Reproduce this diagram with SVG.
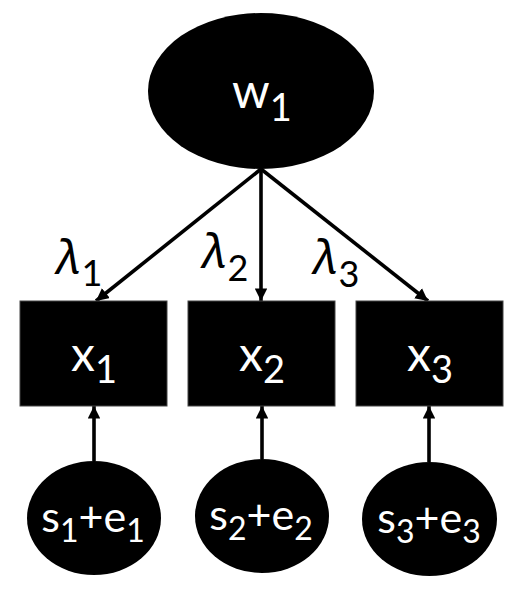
<svg xmlns="http://www.w3.org/2000/svg" width="530" height="599" viewBox="0 0 530 599">
<style>
.node{fill:#000}
.box{fill:#000;stroke:#444;stroke-width:1}
.lbl{fill:#fff;font-family:Lato,"Open Sans",sans-serif;text-anchor:middle}
.big{font-size:48px}
.sm{font-size:43px}
.lam{fill:#000;font-family:"Noto Sans","DejaVu Sans",sans-serif;font-style:italic;font-size:48px}
.sub{font-family:Lato,"Open Sans",sans-serif;font-style:normal}
.edge{stroke:#000;stroke-width:3.6;fill:none;marker-end:url(#ah)}
</style>
<defs>
<marker id="ah" viewBox="0 0 10 10" refX="10" refY="5" markerWidth="3.5" markerHeight="3.6" orient="auto" markerUnits="strokeWidth">
<path d="M0,0 L10,5 L0,10 z" fill="#000"/>
</marker>
</defs>
<rect width="530" height="599" fill="#fff"/>
<g id="connectors">
<line class="edge" x1="261" y1="169" x2="96" y2="301"/>
<line class="edge" x1="261" y1="169" x2="261" y2="301"/>
<line class="edge" x1="261" y1="169" x2="428" y2="301"/>
<line class="edge" x1="94" y1="461" x2="94" y2="406"/>
<line class="edge" x1="262" y1="459" x2="262" y2="406"/>
<line class="edge" x1="429" y1="462" x2="429" y2="406"/>
</g>
<g id="labels">
<text class="lam" x="56" y="274">λ<tspan class="sub" font-size="36" dy="12">1</tspan></text>
<text class="lam" x="202" y="268">λ<tspan class="sub" font-size="36" dy="13">2</tspan></text>
<text class="lam" x="313" y="274">λ<tspan class="sub" font-size="36" dy="13">3</tspan></text>
</g>
<g id="w1">
<ellipse class="node" cx="261" cy="91" rx="113" ry="78"/>
<text class="lbl big" x="262" y="108">w<tspan font-size="38" dy="13">1</tspan></text>
</g>
<g id="x1">
<rect class="box" x="20" y="301" width="147" height="105"/>
<text class="lbl big" x="94" y="371">x<tspan font-size="38" dy="12">1</tspan></text>
</g>
<g id="x2">
<rect class="box" x="188" y="301" width="147" height="105"/>
<text class="lbl big" x="262" y="371">x<tspan font-size="38" dy="12">2</tspan></text>
</g>
<g id="x3">
<rect class="box" x="356" y="301" width="147" height="105"/>
<text class="lbl big" x="430" y="371">x<tspan font-size="38" dy="12">3</tspan></text>
</g>
<g id="e1">
<ellipse class="node" cx="94" cy="518" rx="67" ry="57"/>
<text class="lbl sm" x="93" y="532">s<tspan font-size="32" dy="10">1</tspan><tspan dy="-10">+e</tspan><tspan font-size="32" dy="10">1</tspan></text>
</g>
<g id="e2">
<ellipse class="node" cx="262" cy="516" rx="67" ry="57"/>
<text class="lbl sm" x="261" y="530">s<tspan font-size="32" dy="10">2</tspan><tspan dy="-10">+e</tspan><tspan font-size="32" dy="10">2</tspan></text>
</g>
<g id="e3">
<ellipse class="node" cx="429.5" cy="519" rx="67.5" ry="57"/>
<text class="lbl sm" x="429" y="533">s<tspan font-size="32" dy="10">3</tspan><tspan dy="-10">+e</tspan><tspan font-size="32" dy="10">3</tspan></text>
</g>
</svg>
